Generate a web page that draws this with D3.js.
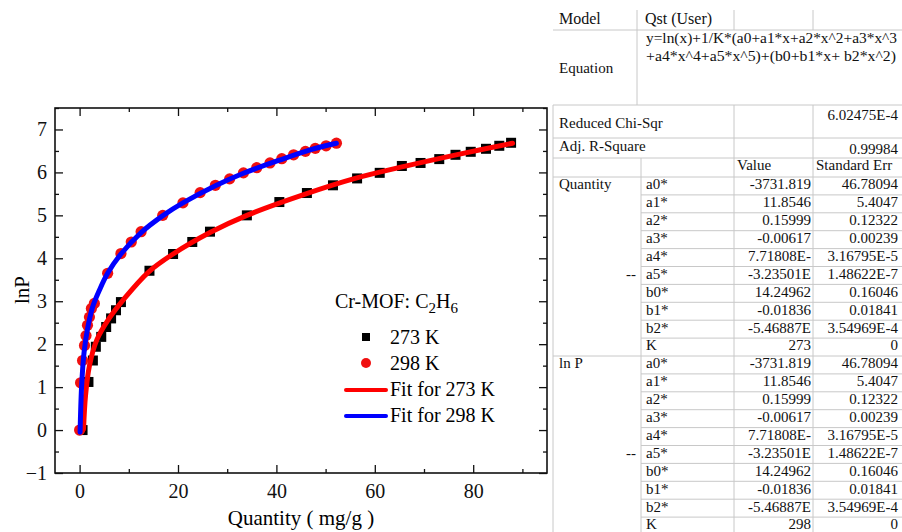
<!DOCTYPE html>
<html>
<head>
<meta charset="utf-8">
<script src="https://cdn.jsdelivr.net/npm/d3@7"></script>
<style>
  body { margin: 0; background: #fff; }
  svg { display: block; }
  svg text { font-family: "Liberation Serif", "Times New Roman", serif; }
</style>
</head>
<body>
<div class="canvas"></div>
<script>
// measured points, 273 K (squares)
const q273 = [0.6, 1.8, 2.7, 3.3, 4.4, 5.4, 6.4, 7.4, 8.4, 14.2, 19.0, 22.9, 26.5, 34.0, 40.6, 46.2, 51.5, 56.4, 61.0, 65.5, 69.3, 73.1, 76.4, 79.5, 82.6, 85.3, 87.7];
const lnP273 = [0, 1.12, 1.62, 1.94, 2.17, 2.4, 2.6, 2.79, 2.98, 3.71, 4.10, 4.38, 4.62, 5.0, 5.31, 5.52, 5.70, 5.86, 5.99, 6.15, 6.22, 6.31, 6.41, 6.48, 6.55, 6.62, 6.69];

// measured points, 298 K (circles)
const q298 = [0, 0.2, 0.6, 1.0, 1.3, 1.6, 2.0, 2.4, 3.0, 5.7, 8.4, 10.5, 12.5, 16.9, 21.0, 24.5, 27.6, 30.5, 33.3, 36.0, 38.7, 41.1, 43.5, 45.9, 47.9, 50.1, 52.2];
const lnP298 = [0, 1.1, 1.62, 1.97, 2.2, 2.44, 2.63, 2.83, 2.95, 3.65, 4.11, 4.38, 4.62, 5.0, 5.29, 5.53, 5.70, 5.85, 5.99, 6.11, 6.22, 6.32, 6.41, 6.49, 6.56, 6.62, 6.68];

// fit curves
const fitQ273 = [0.8, 1.2, 2.0, 3.5, 6.0, 9.0, 14.0, 19.0, 26.5, 34.0, 46.0, 56.0, 66.0, 77.0, 88.0];
const fitY273 = [0.02, 0.8, 1.5, 2.1, 2.6, 3.05, 3.68, 4.1, 4.6, 5.0, 5.5, 5.86, 6.14, 6.42, 6.68];
const fitQ298 = [0.1, 0.4, 0.9, 1.6, 2.6, 4.0, 5.7, 8.4, 12.5, 17.0, 21.0, 27.6, 33.3, 41.0, 47.0, 52.2];
const fitY298 = [-0.05, 1.0, 1.8, 2.35, 2.85, 3.25, 3.65, 4.1, 4.6, 5.0, 5.29, 5.69, 5.98, 6.3, 6.53, 6.68];

const xTicks = [0, 20, 40, 60, 80];
const xMinor = [10, 30, 50, 70, 90];
const yTicks = [-1, 0, 1, 2, 3, 4, 5, 6, 7];
const yMinor = [-0.5, 0.5, 1.5, 2.5, 3.5, 4.5, 5.5, 6.5, 7.5];

// fit report table
const paramNames = ["a0*", "a1*", "a2*", "a3*", "a4*", "a5*", "b0*", "b1*", "b2*", "K"];
const values273 = ["-3731.819", "11.8546", "0.15999", "-0.00617", "7.71808E-", "-3.23501E", "14.24962", "-0.01836", "-5.46887E", "273"];
const values298 = ["-3731.819", "11.8546", "0.15999", "-0.00617", "7.71808E-", "-3.23501E", "14.24962", "-0.01836", "-5.46887E", "298"];
const stdErrs = ["46.78094", "5.4047", "0.12322", "0.00239", "3.16795E-5", "1.48622E-7", "0.16046", "0.01841", "3.54969E-4", "0"];

const svg = d3.select(".canvas").append("svg").attr("width", 902).attr("height", 532);

const x = d3.scaleLinear().domain([-5, 95]).range([55, 547]);
const y = d3.scaleLinear().domain([-1, 7.5]).range([473, 108]);

// axes, ticks pointing inward on all four sides
const axisFont = (g) => {
  g.attr("font-family", null);
  g.select(".domain").remove();
  g.selectAll("text").style("font-size", "20px").attr("fill", "#111");
  g.selectAll("line").attr("stroke", "#111").attr("stroke-width", 1.3);
};

svg.append("g").attr("transform", "translate(0,473)")
  .call(d3.axisBottom(x).tickValues(xTicks).tickSize(-8).tickPadding(11)).call(axisFont);
svg.append("g").attr("transform", "translate(0,473)")
  .call(d3.axisBottom(x).tickValues(xMinor).tickSize(-4).tickFormat("")).call(axisFont);
svg.append("g").attr("transform", "translate(0,108)")
  .call(d3.axisTop(x).tickValues(xTicks).tickSize(-8).tickFormat("")).call(axisFont);
svg.append("g").attr("transform", "translate(0,108)")
  .call(d3.axisTop(x).tickValues(xMinor).tickSize(-4).tickFormat("")).call(axisFont);

svg.append("g").attr("transform", "translate(55,0)")
  .call(d3.axisLeft(y).tickValues(yTicks).tickSize(-8).tickPadding(8).tickFormat(d3.format("d"))).call(axisFont);
svg.append("g").attr("transform", "translate(55,0)")
  .call(d3.axisLeft(y).tickValues(yMinor).tickSize(-4).tickFormat("")).call(axisFont);
svg.append("g").attr("transform", "translate(547,0)")
  .call(d3.axisRight(y).tickValues(yTicks).tickSize(-8).tickFormat("")).call(axisFont);
svg.append("g").attr("transform", "translate(547,0)")
  .call(d3.axisRight(y).tickValues(yMinor).tickSize(-4).tickFormat("")).call(axisFont);

svg.append("rect")
  .attr("x", 55).attr("y", 108).attr("width", 492).attr("height", 365)
  .attr("fill", "none").attr("stroke", "#111").attr("stroke-width", 1.6);

// axis titles
svg.append("text")
  .attr("transform", "translate(29,290) rotate(-90)")
  .attr("text-anchor", "middle")
  .style("font-size", "21px")
  .text("lnP");
svg.append("text")
  .attr("x", 301).attr("y", 525)
  .attr("text-anchor", "middle")
  .style("font-size", "21px")
  .text("Quantity ( mg/g )");

// data markers
const pts273 = q273.map((q, i) => ({ q: q, v: lnP273[i] }));
const pts298 = q298.map((q, i) => ({ q: q, v: lnP298[i] }));

svg.append("g").selectAll("rect").data(pts273).enter().append("rect")
  .attr("x", (d) => x(d.q) - 5)
  .attr("y", (d) => y(d.v) - 5)
  .attr("width", 10).attr("height", 10)
  .attr("fill", "#000");

svg.append("g").selectAll("circle").data(pts298).enter().append("circle")
  .attr("cx", (d) => x(d.q))
  .attr("cy", (d) => y(d.v))
  .attr("r", 5.6)
  .attr("fill", "#f01010");

// fit lines
const line = d3.line().x((d) => x(d.q)).y((d) => y(d.v)).curve(d3.curveCatmullRom.alpha(0.5));
const fit273 = fitQ273.map((q, i) => ({ q: q, v: fitY273[i] }));
const fit298 = fitQ298.map((q, i) => ({ q: q, v: fitY298[i] }));

svg.append("path").datum(fit273).attr("d", line)
  .attr("fill", "none").attr("stroke", "#ff0000").attr("stroke-width", 5).attr("stroke-linecap", "round");
svg.append("path").datum(fit298).attr("d", line)
  .attr("fill", "none").attr("stroke", "#0000ff").attr("stroke-width", 5).attr("stroke-linecap", "round");

// legend
const legend = svg.append("g");
const title = legend.append("text").attr("x", 335).attr("y", 308).style("font-size", "20px");
title.append("tspan").text("Cr-MOF: C");
title.append("tspan").attr("dy", 5).style("font-size", "15px").text("2");
title.append("tspan").attr("dy", -5).text("H");
title.append("tspan").attr("dy", 5).style("font-size", "15px").text("6");

legend.append("rect").attr("x", 362).attr("y", 333).attr("width", 8).attr("height", 8).attr("fill", "#000");
legend.append("circle").attr("cx", 366).attr("cy", 363).attr("r", 5).attr("fill", "#f01010");
legend.append("line").attr("x1", 346).attr("x2", 386).attr("y1", 390).attr("y2", 390)
  .attr("stroke", "#ff0000").attr("stroke-width", 4).attr("stroke-linecap", "round");
legend.append("line").attr("x1", 346).attr("x2", 386).attr("y1", 416).attr("y2", 416)
  .attr("stroke", "#0000ff").attr("stroke-width", 4).attr("stroke-linecap", "round");

const legendLabels = ["273 K", "298 K", "Fit for 273 K", "Fit for 298 K"];
legend.selectAll("text.lab").data(legendLabels).enter().append("text")
  .attr("class", "lab")
  .attr("x", 390)
  .attr("y", (d, i) => 344 + i * 26)
  .style("font-size", "20px")
  .text((d) => d);

// table
const tbl = svg.append("g").style("font-size", "15px").attr("fill", "#111");
const grid = "#c8c8c8";
const hline = (x1, x2, yy) => tbl.append("line").attr("x1", x1).attr("x2", x2).attr("y1", yy).attr("y2", yy).attr("stroke", grid);
const vline = (xx, y1, y2) => tbl.append("line").attr("x1", xx).attr("x2", xx).attr("y1", y1).attr("y2", y2).attr("stroke", grid);

const rowTop = 177;
const rowH = 17.9;

hline(553, 902, 30);
hline(553, 902, 105);
hline(553, 902, 138);
hline(553, 902, 158);
hline(553, 902, rowTop);
vline(553, 105, 532);
vline(637, 10, 105);
vline(734, 10, 30);
vline(813, 10, 30);
vline(734, 105, 532);
vline(813, 105, 532);
vline(641, 158, 532);

for (let i = 1; i < 20; i++) {
  hline(i === 10 ? 553 : 641, 902, rowTop + i * rowH);
}

const txt = (xx, yy, s, anchor, size) => tbl.append("text").attr("x", xx).attr("y", yy)
  .attr("text-anchor", anchor || "start").attr("dominant-baseline", "middle")
  .style("font-size", size || null).text(s);

txt(559, 20, "Model", "start", "16px");
txt(645, 20, "Qst (User)", "start", "16px");
txt(646, 40, "y=ln(x)+1/K*(a0+a1*x+a2*x^2+a3*x^3", "start", "15px")
  .attr("textLength", 251).attr("lengthAdjust", "spacingAndGlyphs");
txt(646, 58, "+a4*x^4+a5*x^5)+(b0+b1*x+ b2*x^2)", "start", "15px")
  .attr("textLength", 250).attr("lengthAdjust", "spacingAndGlyphs");
txt(559, 70, "Equation");
txt(559, 125, "Reduced Chi-Sqr");
txt(898, 117, "6.02475E-4", "end");
txt(559, 148, "Adj. R-Square");
txt(898, 151, "0.99984", "end");
txt(737, 167, "Value");
txt(816, 167, "Standard Err");

const groups = [
  { name: "Quantity", vals: values273 },
  { name: "ln P", vals: values298 }
];
groups.forEach((g, gi) => {
  paramNames.forEach((p, i) => {
    const r = gi * 10 + i;
    const cy = rowTop + r * rowH + rowH / 2;
    if (i === 0) txt(559, cy, g.name);
    if (i === 5) txt(636, cy, "--", "end");
    txt(646, cy, p);
    txt(811, cy, g.vals[i], "end");
    txt(898, cy, stdErrs[i], "end");
  });
});
</script>
</body>
</html>
